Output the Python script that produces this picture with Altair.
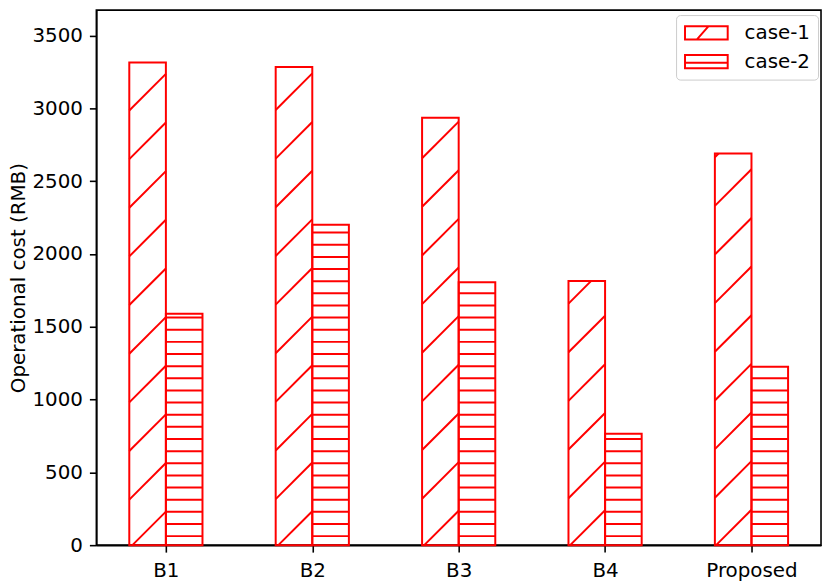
import altair as alt
import pandas as pd

# ---- data ----
categories = ["B1", "B2", "B3", "B4", "Proposed"]
series = ["case-1", "case-2"]
case1 = [3315, 3285, 2935, 1815, 2690]
case2 = [1590, 2200, 1805, 765, 1225]
y_ticks = [0, 500, 1000, 1500, 2000, 2500, 3000, 3500]

# ---- layout / style constants ----
W, H = 730, 539
X0, X1 = -0.475, 4.475
Y0, Y1 = 0, 3675
BAR_W = 0.25
RED = "#ff0000"
FONT = "DejaVu Sans"
DIAG_STEP, DIAG_PHASE = 49.0, 134.3     # '/' hatch, pixel space (x + y = const)
HL_STEP, HL_PHASE = 12.23, 285.3        # '-' hatch, pixel space (y = const)

rows = []
for i, c in enumerate(categories):
    rows.append({"cat": c, "series": series[0], "x": i - BAR_W, "x2": i, "value": case1[i]})
    rows.append({"cat": c, "series": series[1], "x": i, "x2": i + BAR_W, "value": case2[i]})
bars = pd.DataFrame(rows)
bars["xc"] = (bars["x"] + bars["x2"]) / 2


def to_px(x, y):
    return (x - X0) / (X1 - X0) * W, H - (y - Y0) / (Y1 - Y0) * H


def to_data(px, py):
    return X0 + px / W * (X1 - X0), Y0 + (H - py) / H * (Y1 - Y0)


hatch = []
for _, r in bars.iterrows():
    L, T = to_px(r["x"], r["value"])
    R, B = to_px(r["x2"], 0)
    if r["series"] == series[0]:
        k0 = int((L + T - DIAG_PHASE) // DIAG_STEP) - 1
        k1 = int((R + B - DIAG_PHASE) // DIAG_STEP) + 2
        for k in range(k0, k1):
            c = DIAG_PHASE + k * DIAG_STEP
            xa, xb = max(L, c - B), min(R, c - T)
            if xb - xa > 0.5:
                dx1, dy1 = to_data(xa, c - xa)
                dx2, dy2 = to_data(xb, c - xb)
                hatch.append({"hx": dx1, "hy": dy1, "hx2": dx2, "hy2": dy2})
    else:
        k0 = int((T - HL_PHASE) // HL_STEP)
        k1 = int((B - HL_PHASE) // HL_STEP) + 2
        for k in range(k0, k1):
            yy = HL_PHASE + k * HL_STEP
            if T < yy < B:
                dx1, dy1 = to_data(L, yy)
                dx2, _ = to_data(R, yy)
                hatch.append({"hx": dx1, "hy": dy1, "hx2": dx2, "hy2": dy1})
hatch = pd.DataFrame(hatch)

xscale = alt.Scale(domain=[X0, X1], nice=False, zero=False)
yscale = alt.Scale(domain=[Y0, Y1], nice=False)

label_expr = "[" + ",".join("'%s'" % c for c in categories) + "][datum.value]"
xaxis = alt.Axis(values=list(range(len(categories))), labelExpr=label_expr, title=None,
                 labelFlush=False, labelOverlap=False, grid=False, labelPadding=9)
yaxis = alt.Axis(values=y_ticks, format="d", title="Operational cost (RMB)", grid=False,
                 labelOverlap=False, labelFlush=False, titleX=-68, labelPadding=7)

hatch_layer = alt.Chart(hatch).mark_rule(color=RED, strokeWidth=2).encode(
    x=alt.X("hx:Q", scale=xscale, axis=xaxis),
    x2="hx2:Q",
    y=alt.Y("hy:Q", scale=yscale, axis=yaxis),
    y2="hy2:Q",
)

bar_layer = alt.Chart(bars).mark_rect(fill="transparent", stroke=RED, strokeWidth=2).encode(
    x=alt.X("x:Q", scale=xscale, axis=xaxis),
    x2="x2:Q",
    y=alt.Y("value:Q", scale=yscale, axis=yaxis),
    y2=alt.datum(0),
)

path1 = "M-1,-0.31H1V0.31H-1Z M-0.45,0.31L0.095,-0.31"
path2 = "M-1,-0.31H1V0.31H-1Z M-1,0.05H1"

legend_layer = alt.Chart(bars).mark_point(opacity=0, filled=False).encode(
    x=alt.X("xc:Q", scale=xscale, axis=xaxis),
    y=alt.Y("value:Q", scale=yscale, axis=yaxis),
    shape=alt.Shape("series:N", scale=alt.Scale(domain=series, range=[path1, path2]),
                    legend=alt.Legend(title=None, orient="none", legendX=584, legendY=5,
                                      padding=8, strokeColor="#cccccc", fillColor="white",
                                      cornerRadius=4, labelFont=FONT, labelFontSize=20,
                                      labelColor="black", labelOffset=16, rowPadding=9,
                                      clipHeight=20,
                                      symbolSize=1849, symbolStrokeWidth=2,
                                      symbolStrokeColor=RED, symbolOpacity=1)),
)

chart = alt.layer(hatch_layer, bar_layer, legend_layer).properties(
    width=W, height=H, autosize="none",
    padding={"left": 89, "top": 0, "right": 2, "bottom": 37},
).configure_view(stroke="black", strokeWidth=1.6).configure_axis(
    labelFont=FONT, labelFontSize=20, labelColor="black",
    tickColor="black", tickWidth=1.6, tickSize=7, domainColor="black", domainWidth=1.6,
    titleFont=FONT, titleFontSize=20, titleFontWeight="normal", titleColor="black",
)

chart.save("out.html", embed_options={"renderer": "svg", "actions": False})
